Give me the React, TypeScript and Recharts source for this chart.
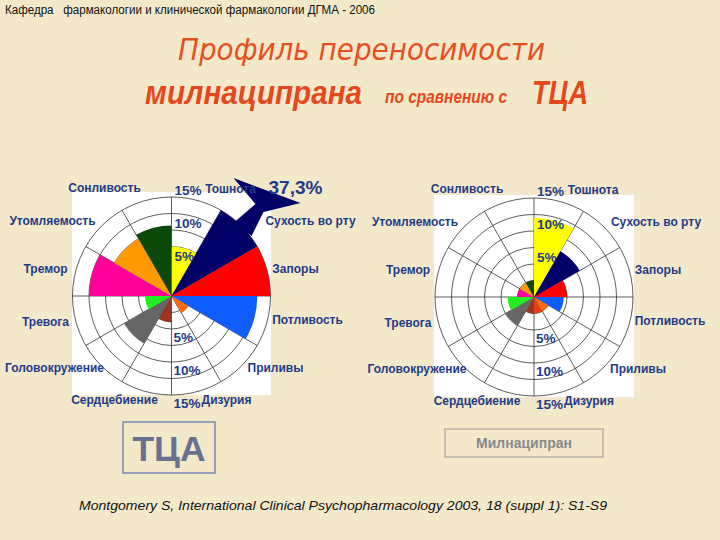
import React from "react";
import {
  RadarChart,
  Radar,
  PolarGrid,
  PolarAngleAxis,
  PolarRadiusAxis,
  Sector,
} from "recharts";

// side effects, in the order they are drawn clockwise from 12 o'clock
const CATEGORIES = [
  "Тошнота",
  "Сухость во рту",
  "Запоры",
  "Потливость",
  "Приливы",
  "Дизурия",
  "Сердцебиение",
  "Головокружение",
  "Тревога",
  "Тремор",
  "Утомляемость",
  "Сонливость",
];

// % of patients
const TCA_VALUES = [7.5, 37.3, 15, 13, 3, 0, 4, 8.3, 4, 12.5, 10, 10.7];
const MILNACIPRAN_VALUES = [12, 8, 5, 4.5, 2.5, 2.5, 2.5, 5, 4, 2.5, 2.5, 2.5];

const SCALE_MAX = 15;
const RING_TICKS = [0, 2.5, 5, 7.5, 10, 12.5, 15];
const LABELLED_TICKS = [5, 10, 15];

const SLICE_COLORS = [
  "#ffff00", "#000066", "#ff0000", "#0f5cff", "#ff6a10", "#dd4411",
  "#993322", "#666666", "#22ee22", "#ff0099", "#ff9900", "#0b4a0b",
];

const OUTER_R = 99;
const SPOKES = [90, 60, 30, 0, -30, -60, -90, -120, -150, -180, -210, -240];

// where each category name sits, relative to the chart centre
const LABEL_OFFSETS = [
  [59, -107], [122, -75], [124, -27], [136, 24], [104, 72], [55, 104],
  [-57, 104], [-117, 72], [-126, 26], [-126, -27], [-119, -75], [-67, -108],
];

const BLUE_TEXT = "#1f3c88";
const FONT = "'Liberation Sans', Arial, sans-serif";

const ringRadius = (v: number) => (OUTER_R * v) / SCALE_MAX;

function RoseChart({
  values,
  cx,
  cy,
  labelShift = {},
}: {
  values: number[];
  cx: number;
  cy: number;
  labelShift?: Record<number, number>;
}) {
  const data = CATEGORIES.map((name, i) => ({ name, value: values[i] }));

  // eslint-disable-next-line @typescript-eslint/no-explicit-any
  const renderSlices = (props: any) => {
    const points = props.points || [];
    return (
      <g>
        {points.map((p: any, i: number) => {
          if (!p.value) return null;
          return (
            <Sector
              key={i}
              cx={p.cx}
              cy={p.cy}
              innerRadius={0}
              outerRadius={Math.min(p.radius, OUTER_R)}
              startAngle={p.angle + 15}
              endAngle={p.angle - 15}
              fill={SLICE_COLORS[i]}
              stroke="none"
            />
          );
        })}
        {points
          .filter((p: any) => p.value > SCALE_MAX)
          .map((p: any, i: number) => (
            <g key={"over" + i}>
              <polygon
                points={[
                  [63, -74], [84, -92], [62, -118], [129, -93],
                  [92, -84], [80, -60],
                ]
                  .map(([dx, dy]) => `${p.cx + dx},${p.cy + dy}`)
                  .join(" ")}
                fill={SLICE_COLORS[1]}
              />
              <text
                x={p.cx + 124}
                y={p.cy - 102}
                textAnchor="middle"
                fontFamily={FONT}
                fontWeight="bold"
                fontSize={19}
                fill={BLUE_TEXT}
              >
                {String(p.value).replace(".", ",")}%
              </text>
            </g>
          ))}
      </g>
    );
  };

  const pctStyle = {
    fontFamily: FONT,
    fontWeight: "bold" as const,
    fontSize: 13.5,
    fill: BLUE_TEXT,
  };

  const renderCategory = (t: any) => {
    const i = t.index;
    const [dx, dy] = LABEL_OFFSETS[i];
    return (
      <g>
        <text
          x={cx + dx + (labelShift[i] || 0)}
          y={cy + dy + 4}
          textAnchor="middle"
          fontFamily={FONT}
          fontWeight="bold"
          fontSize={12}
          fill={BLUE_TEXT}
        >
          {t.payload.value}
        </text>
        {i === 0 &&
          LABELLED_TICKS.map((v) => (
            <g key={v}>
              <text x={cx + 3} y={cy - ringRadius(v) - 2} {...pctStyle}>{v}%</text>
              <text x={cx + 2} y={cy + ringRadius(v) + 13} {...pctStyle}>{v}%</text>
            </g>
          ))}
      </g>
    );
  };

  return (
    <RadarChart
      width={360}
      height={250}
      cx={cx}
      cy={cy}
      outerRadius={OUTER_R}
      startAngle={75}
      endAngle={-285}
      data={data}
      margin={{ top: 0, right: 0, bottom: 0, left: 0 }}
    >
      <Radar
        dataKey="value"
        isAnimationActive={false}
        shape={renderSlices}
        fill="none"
        stroke="none"
      />
      <PolarGrid
        gridType="circle"
        polarAngles={SPOKES}
        polarRadius={RING_TICKS.slice(1).map(ringRadius)}
        stroke="#333333"
        strokeWidth={0.8}
        strokeOpacity={1}
      />
      <PolarAngleAxis
        dataKey="name"
        axisLine={false}
        tickLine={false}
        tick={renderCategory}
      />
      <PolarRadiusAxis
        angle={90}
        type="number"
        domain={[0, SCALE_MAX]}
        allowDataOverflow
        ticks={RING_TICKS}
        axisLine={false}
        tick={false}
      />
    </RadarChart>
  );
}

export default function App() {
  return (
    <div
      style={{
        position: "fixed",
        left: 0,
        top: 0,
        width: 720,
        height: 540,
        overflow: "hidden",
        background: "#f4e8cb",
      }}
    >
      <svg width={720} height={540} style={{ position: "absolute", left: 0, top: 0 }}>
        <text
          x={5}
          y={14}
          fontFamily="'Liberation Sans Narrow', 'Arial Narrow', sans-serif"
          fontSize={12.5}
          fill="#111"
          textLength={370}
          lengthAdjust="spacingAndGlyphs"
          style={{ whiteSpace: "pre" }}
        >
          Кафедра   фармакологии и клинической фармакологии ДГМА - 2006
        </text>
        <text
          x={178}
          y={60}
          fontFamily="'DejaVu Sans', sans-serif"
          fontStyle="italic"
          fontSize={30}
          fill="#e4501f"
          textLength={367}
          lengthAdjust="spacingAndGlyphs"
        >
          Профиль переносимости
        </text>
        <text
          x={145}
          y={104}
          fontFamily={FONT}
          fontStyle="italic"
          fontWeight="bold"
          fontSize={33}
          fill="#e4481c"
          textLength={217}
          lengthAdjust="spacingAndGlyphs"
        >
          милнаципрана
        </text>
        <text
          x={385}
          y={103}
          fontFamily={FONT}
          fontStyle="italic"
          fontWeight="bold"
          fontSize={19}
          fill="#e4481c"
          textLength={122}
          lengthAdjust="spacingAndGlyphs"
        >
          по сравнению с
        </text>
        <text
          x={532}
          y={104}
          fontFamily={FONT}
          fontStyle="italic"
          fontWeight="bold"
          fontSize={33}
          fill="#e4481c"
          textLength={56}
          lengthAdjust="spacingAndGlyphs"
        >
          ТЦА
        </text>

        <rect x={72} y={192} width={199} height={203} fill="#ffffff" />
        <rect x={434} y={195} width={200} height={202} fill="#ffffff" />

        <rect x={123} y={422} width={92} height={51} fill="none" stroke="#7a86b4" strokeWidth={1.5} />
        <text
          x={169}
          y={461}
          textAnchor="middle"
          fontFamily={FONT}
          fontWeight="bold"
          fontSize={35}
          fill="#697193"
          textLength={73}
          lengthAdjust="spacingAndGlyphs"
        >
          ТЦА
        </text>
        <rect x={445} y={429} width={158} height={28} fill="none" stroke="#9a9a9a" strokeWidth={1} />
        <text
          x={524}
          y={448}
          textAnchor="middle"
          fontFamily={FONT}
          fontWeight="bold"
          fontSize={14}
          fill="#8a8a8a"
        >
          Милнаципран
        </text>
        <text
          x={79}
          y={510}
          fontFamily={FONT}
          fontStyle="italic"
          fontSize={13}
          fill="#111"
          textLength={528}
          lengthAdjust="spacingAndGlyphs"
        >
          Montgomery S, International Clinical Psychopharmacology 2003, 18 (suppl 1): S1-S9
        </text>
      </svg>

      <div style={{ position: "absolute", left: 0, top: 170 }}>
        <RoseChart values={TCA_VALUES} cx={171.5} cy={126} labelShift={{ 1: 17 }} />
      </div>
      <div style={{ position: "absolute", left: 360, top: 170 }}>
        <RoseChart values={MILNACIPRAN_VALUES} cx={174} cy={127} />
      </div>
    </div>
  );
}
